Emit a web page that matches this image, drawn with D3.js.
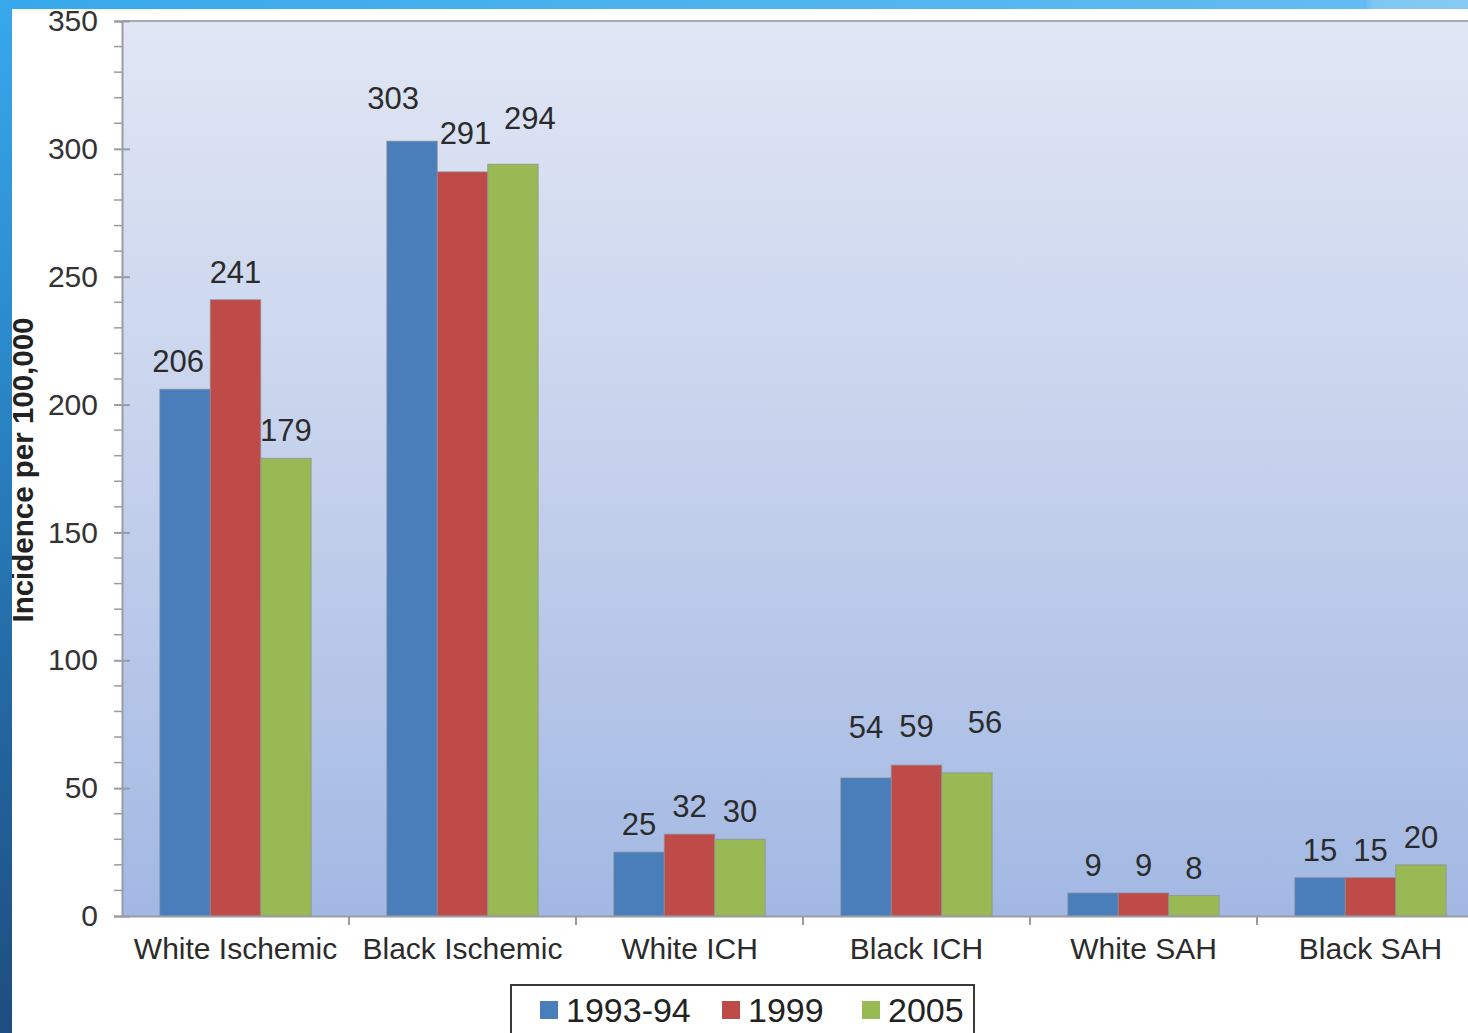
<!DOCTYPE html>
<html>
<head>
<meta charset="utf-8">
<script src="https://cdn.jsdelivr.net/npm/d3@7"></script>
<style>
  html, body { margin: 0; padding: 0; background: #fff; overflow: hidden; }
  svg { display: block; font-family: "Liberation Sans", Arial, sans-serif; }
</style>
</head>
<body>
<svg id="svg" width="1468" height="1033"></svg>
<script>
// data
const categories = ["White Ischemic", "Black Ischemic", "White ICH", "Black ICH", "White SAH", "Black SAH"];
const seriesNames = ["1993-94", "1999", "2005"];
const v1993 = [206, 303, 25, 54, 9, 15];
const v1999 = [241, 291, 32, 59, 9, 15];
const v2005 = [179, 294, 30, 56, 8, 20];
const yTicks = [0, 50, 100, 150, 200, 250, 300, 350];

const colors = ["#4a7ebb", "#be4b48", "#98b954"];
const seriesVals = [v1993, v1999, v2005];

// hand-placed value labels in the original (dx, dy in px)
const labelNudge = {
  "White Ischemic|1993-94": [-7, 0],
  "Black Ischemic|1993-94": [-19, -15],
  "Black Ischemic|1999": [3, -11],
  "Black Ischemic|2005": [17, -18],
  "Black ICH|1993-94": [0, -23],
  "Black ICH|1999": [0, -11],
  "Black ICH|2005": [18, -23]
};

const W = 1468, H = 1033;
const plotLeft = 122, plotTop = 21, plotBottom = 916, plotRight = 1484;

const svg = d3.select('#svg');
const defs = svg.append("defs");

// slide frame gradients
const gTop = defs.append("linearGradient").attr("id", "gTop");
gTop.append("stop").attr("offset", "0").attr("stop-color", "#37a8ec");
gTop.append("stop").attr("offset", "0.93").attr("stop-color", "#62bcf1");
gTop.append("stop").attr("offset", "0.935").attr("stop-color", "#7fc7f2");
gTop.append("stop").attr("offset", "1").attr("stop-color", "#86caf2");

const gLeft = defs.append("linearGradient").attr("id", "gLeft")
  .attr("x1", 0).attr("y1", 0).attr("x2", 0).attr("y2", 1);
gLeft.append("stop").attr("offset", "0").attr("stop-color", "#38a9ec");
gLeft.append("stop").attr("offset", "0.35").attr("stop-color", "#2a88c9");
gLeft.append("stop").attr("offset", "0.7").attr("stop-color", "#23659f");
gLeft.append("stop").attr("offset", "1").attr("stop-color", "#1e4d80");

const gPlot = defs.append("linearGradient").attr("id", "gPlot")
  .attr("x1", 0).attr("y1", 0).attr("x2", 0).attr("y2", 1);
gPlot.append("stop").attr("offset", "0").attr("stop-color", "#e0e6f4");
gPlot.append("stop").attr("offset", "0.5").attr("stop-color", "#c5d1ec");
gPlot.append("stop").attr("offset", "1").attr("stop-color", "#a2b8e3");

// scales
const y = d3.scaleLinear().domain([0, 350]).range([plotBottom, plotTop]);
const x0 = d3.scaleBand().domain(categories).range([plotLeft, plotRight]).padding(0);
const x1 = d3.scaleBand().domain(seriesNames).range([0, x0.bandwidth()])
  .paddingInner(0).paddingOuter(0.75);

// plot background
svg.append("rect").attr("x", plotLeft).attr("y", plotTop)
  .attr("width", plotRight - plotLeft).attr("height", plotBottom - plotTop)
  .attr("fill", "url(#gPlot)");
svg.append("line").attr("x1", plotLeft).attr("x2", plotRight).attr("y1", plotTop).attr("y2", plotTop)
  .attr("stroke", "#a9aaad").attr("stroke-width", 2);

// bars
const groups = svg.append("g").selectAll("g")
  .data(categories)
  .join("g")
  .attr("transform", d => `translate(${x0(d)},0)`);

const cells = (c, i) => seriesNames.map((s, k) => ({ c, s, k, v: seriesVals[k][i] }));
const nudge = d => labelNudge[d.c + "|" + d.s] || [0, 0];

groups.selectAll("rect")
  .data(cells)
  .join("rect")
  .attr("x", d => x1(d.s))
  .attr("y", d => y(d.v))
  .attr("width", x1.bandwidth())
  .attr("height", d => y(0) - y(d.v))
  .attr("fill", d => colors[d.k])
  .attr("stroke", "#8c8f96")
  .attr("stroke-opacity", 0.7)
  .attr("stroke-width", 1);

groups.selectAll("text")
  .data(cells)
  .join("text")
  .attr("x", d => x1(d.s) + x1.bandwidth() / 2 + nudge(d)[0])
  .attr("y", d => y(d.v) - 17 + nudge(d)[1])
  .attr("text-anchor", "middle")
  .attr("font-size", 31)
  .attr("fill", "#2b2b2b")
  .text(d => d.v);

// y axis
const yAxis = d3.axisLeft(y).tickValues(yTicks).tickSize(8).tickPadding(16);
const ya = svg.append("g").attr("transform", `translate(${plotLeft},0)`).call(yAxis);
ya.select(".domain").attr("stroke", "#9a9ca3").attr("stroke-width", 2);
ya.selectAll(".tick line").attr("stroke", "#9a9ca3").attr("stroke-width", 2)
  .attr("x2", -8).attr("x1", 8);
ya.selectAll(".tick text").attr("font-size", 30).attr("fill", "#333")
  .attr("font-family", "Liberation Sans, Arial, sans-serif");

// minor ticks
const minor = d3.range(0, 351, 10).filter(v => v % 50 !== 0);
svg.append("g").selectAll("line").data(minor).join("line")
  .attr("x1", plotLeft - 8).attr("x2", plotLeft)
  .attr("y1", d => y(d)).attr("y2", d => y(d))
  .attr("stroke", "#9a9ca3").attr("stroke-width", 1.5);

// x axis
const xAxis = d3.axisBottom(x0).tickSize(0).tickPadding(22);
const xa = svg.append("g").attr("transform", `translate(0,${plotBottom})`).call(xAxis);
xa.select(".domain").attr("stroke", "#9a9ca3").attr("stroke-width", 2);
xa.selectAll(".tick text").attr("font-size", 30).attr("fill", "#2b2b2b")
  .attr("font-family", "Liberation Sans, Arial, sans-serif");
svg.append("g").selectAll("line").data(categories.slice(1)).join("line")
  .attr("x1", d => x0(d)).attr("x2", d => x0(d))
  .attr("y1", plotBottom).attr("y2", plotBottom + 9)
  .attr("stroke", "#9a9ca3").attr("stroke-width", 2);

// y title
svg.append("text")
  .attr("transform", `translate(33,${470}) rotate(-90)`)
  .attr("text-anchor", "middle")
  .attr("font-size", 29.5).attr("font-weight", "bold").attr("fill", "#222")
  .text("Incidence per 100,000");

// legend
const lg = svg.append("g").attr("transform", "translate(511,985)");
lg.append("rect").attr("width", 463).attr("height", 60)
  .attr("fill", "#fff").attr("stroke", "#3a3a3a").attr("stroke-width", 2);
const legX = [29, 211, 351];
const li = lg.selectAll("g").data(seriesNames).join("g")
  .attr("transform", (d, i) => `translate(${legX[i]},0)`);
li.append("rect").attr("y", 16).attr("width", 18).attr("height", 18)
  .attr("fill", (d, i) => colors[i]);
li.append("text").attr("x", 26).attr("y", 37).attr("font-size", 34).attr("fill", "#222")
  .text(d => d);

// slide frame
svg.append("rect").attr("x", 0).attr("y", 0).attr("width", W).attr("height", 9)
  .attr("fill", "url(#gTop)");
svg.append("rect").attr("x", 0).attr("y", 0).attr("width", 12).attr("height", H)
  .attr("fill", "url(#gLeft)");
</script>
</body>
</html>
